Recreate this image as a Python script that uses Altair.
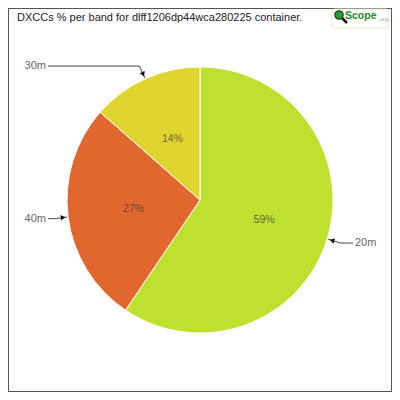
import altair as alt
import pandas as pd
import numpy as np

# ---- data ----
bands = ["20m", "40m", "30m"]
counts = [22, 10, 5]
colors = ["#bee130", "#e2672f", "#e0d52e"]
title_text = "DXCCs % per band for dlff1206dp44wca280225 container."

vals = np.array(counts, dtype=float)
frac = vals / vals.sum()
t1 = np.cumsum(frac)
t0 = t1 - frac
df = pd.DataFrame({"band": bands, "value": counts, "frac": frac, "t0": t0, "t1": t1})

W = 384
C = W / 2
R = 133
FONT = "Liberation Sans, sans-serif"

xs = alt.Scale(domain=[0, W], nice=False, zero=False)
ys = alt.Scale(domain=[0, W], nice=False, zero=False, reverse=True)
col = alt.Color("band:N", scale=alt.Scale(domain=bands, range=colors), legend=None)

base = alt.Chart(df).transform_calculate(
    mid="(datum.t0 + datum.t1) * PI",
).transform_calculate(
    s="sin(datum.mid)", c="cos(datum.mid)",
).transform_calculate(
    tipx=f"{C} + 134 * datum.s", tipy=f"{C} - 134 * datum.c",
    ahx=f"{C} + 138 * datum.s", ahy=f"{C} - 138 * datum.c",
    elbx=f"{C} + 147 * datum.s", elby=f"{C} - 147 * datum.c",
    endx="datum.s < 0 ? 40 : 345",
    labx="datum.s < 0 ? 38 : 347",
    inx=f"{C} + 67 * datum.s", iny=f"{C} - 67 * datum.c",
    ang="(datum.mid * 180 / PI + 180) % 360",
    pct="format(datum.frac * 100, '.0f') + '%'",
)

arcs = alt.Chart(df).mark_arc(outerRadius=R, stroke="white", strokeWidth=1).encode(
    theta=alt.Theta("t0:Q", scale=alt.Scale(domain=[0, 1], range=[0, 2 * np.pi])),
    theta2="t1:Q",
    color=col,
)

inner = base.mark_text(font=FONT, fontSize=10.5, color="#3a3a3a", opacity=0.7).encode(
    x=alt.X("inx:Q", scale=xs, axis=None),
    y=alt.Y("iny:Q", scale=ys, axis=None),
    text="pct:N",
)

line1 = base.mark_rule(color="#444", strokeWidth=1).encode(
    x=alt.X("elbx:Q", scale=xs, axis=None), y=alt.Y("elby:Q", scale=ys, axis=None),
    x2="tipx:Q", y2="tipy:Q",
)
line2 = base.mark_rule(color="#444", strokeWidth=1).encode(
    x=alt.X("elbx:Q", scale=xs, axis=None), y=alt.Y("elby:Q", scale=ys, axis=None),
    x2="endx:Q", y2="elby:Q",
)
heads = base.mark_point(shape="triangle-up", filled=True, color="#111", size=30, opacity=1).encode(
    x=alt.X("ahx:Q", scale=xs, axis=None), y=alt.Y("ahy:Q", scale=ys, axis=None),
    angle=alt.Angle("ang:Q", scale=None),
)
lab_left = base.transform_filter("datum.s < 0").mark_text(
    font=FONT, fontSize=11, color="#666", align="right", baseline="middle"
).encode(
    x=alt.X("labx:Q", scale=xs, axis=None), y=alt.Y("elby:Q", scale=ys, axis=None), text="band:N"
)
lab_right = base.transform_filter("datum.s >= 0").mark_text(
    font=FONT, fontSize=11, color="#666", align="left", baseline="middle"
).encode(
    x=alt.X("labx:Q", scale=xs, axis=None), y=alt.Y("elby:Q", scale=ys, axis=None), text="band:N"
)

tdf = pd.DataFrame({"t": [title_text]})
title = alt.Chart(tdf).mark_text(
    font=FONT, fontSize=11, color="#222", align="left", baseline="middle"
).encode(x=alt.value(9), y=alt.value(10), text="t:N")

# logo
ldf = pd.DataFrame({"a": ["Scope"], "b": [".org"]})
logo_box = alt.Chart(ldf).mark_rect(fill="white", stroke="#e3ecc8", cornerRadius=3).encode(
    x=alt.value(324), x2=alt.value(381), y=alt.value(1), y2=alt.value(20)
)
logo_handle = alt.Chart(ldf).mark_rule(color="#111", strokeWidth=2.5).encode(
    x=alt.value(333), y=alt.value(9), x2=alt.value(339), y2=alt.value(15)
)
logo_glass = alt.Chart(ldf).mark_point(filled=True, color="#2f9a3a", stroke="#0b4d14",
                                        strokeWidth=1.2, size=70, opacity=1).encode(
    x=alt.value(331), y=alt.value(7)
)
logo_txt = alt.Chart(ldf).mark_text(font=FONT, fontSize=10.5,
                                    fontWeight="bold", color="#1e8a2c", align="left",
                                    baseline="middle").encode(
    x=alt.value(337), y=alt.value(8), text="a:N"
)
logo_org = alt.Chart(ldf).mark_text(font=FONT, fontSize=6,
                                    color="#8cc08c", align="left", baseline="middle").encode(
    x=alt.value(370), y=alt.value(11), text="b:N"
)

chart = alt.layer(
    arcs, inner, line1, line2, heads, lab_left, lab_right,
    title, logo_box, logo_handle, logo_glass, logo_txt, logo_org,
).properties(
    width=W, height=W, padding=0, background="white",
    autosize=alt.AutoSizeParams(type="fit", contains="padding"),
).configure_view(stroke="#555", strokeWidth=2)

chart.save("out.html", embed_options={"renderer": "svg", "actions": False})
